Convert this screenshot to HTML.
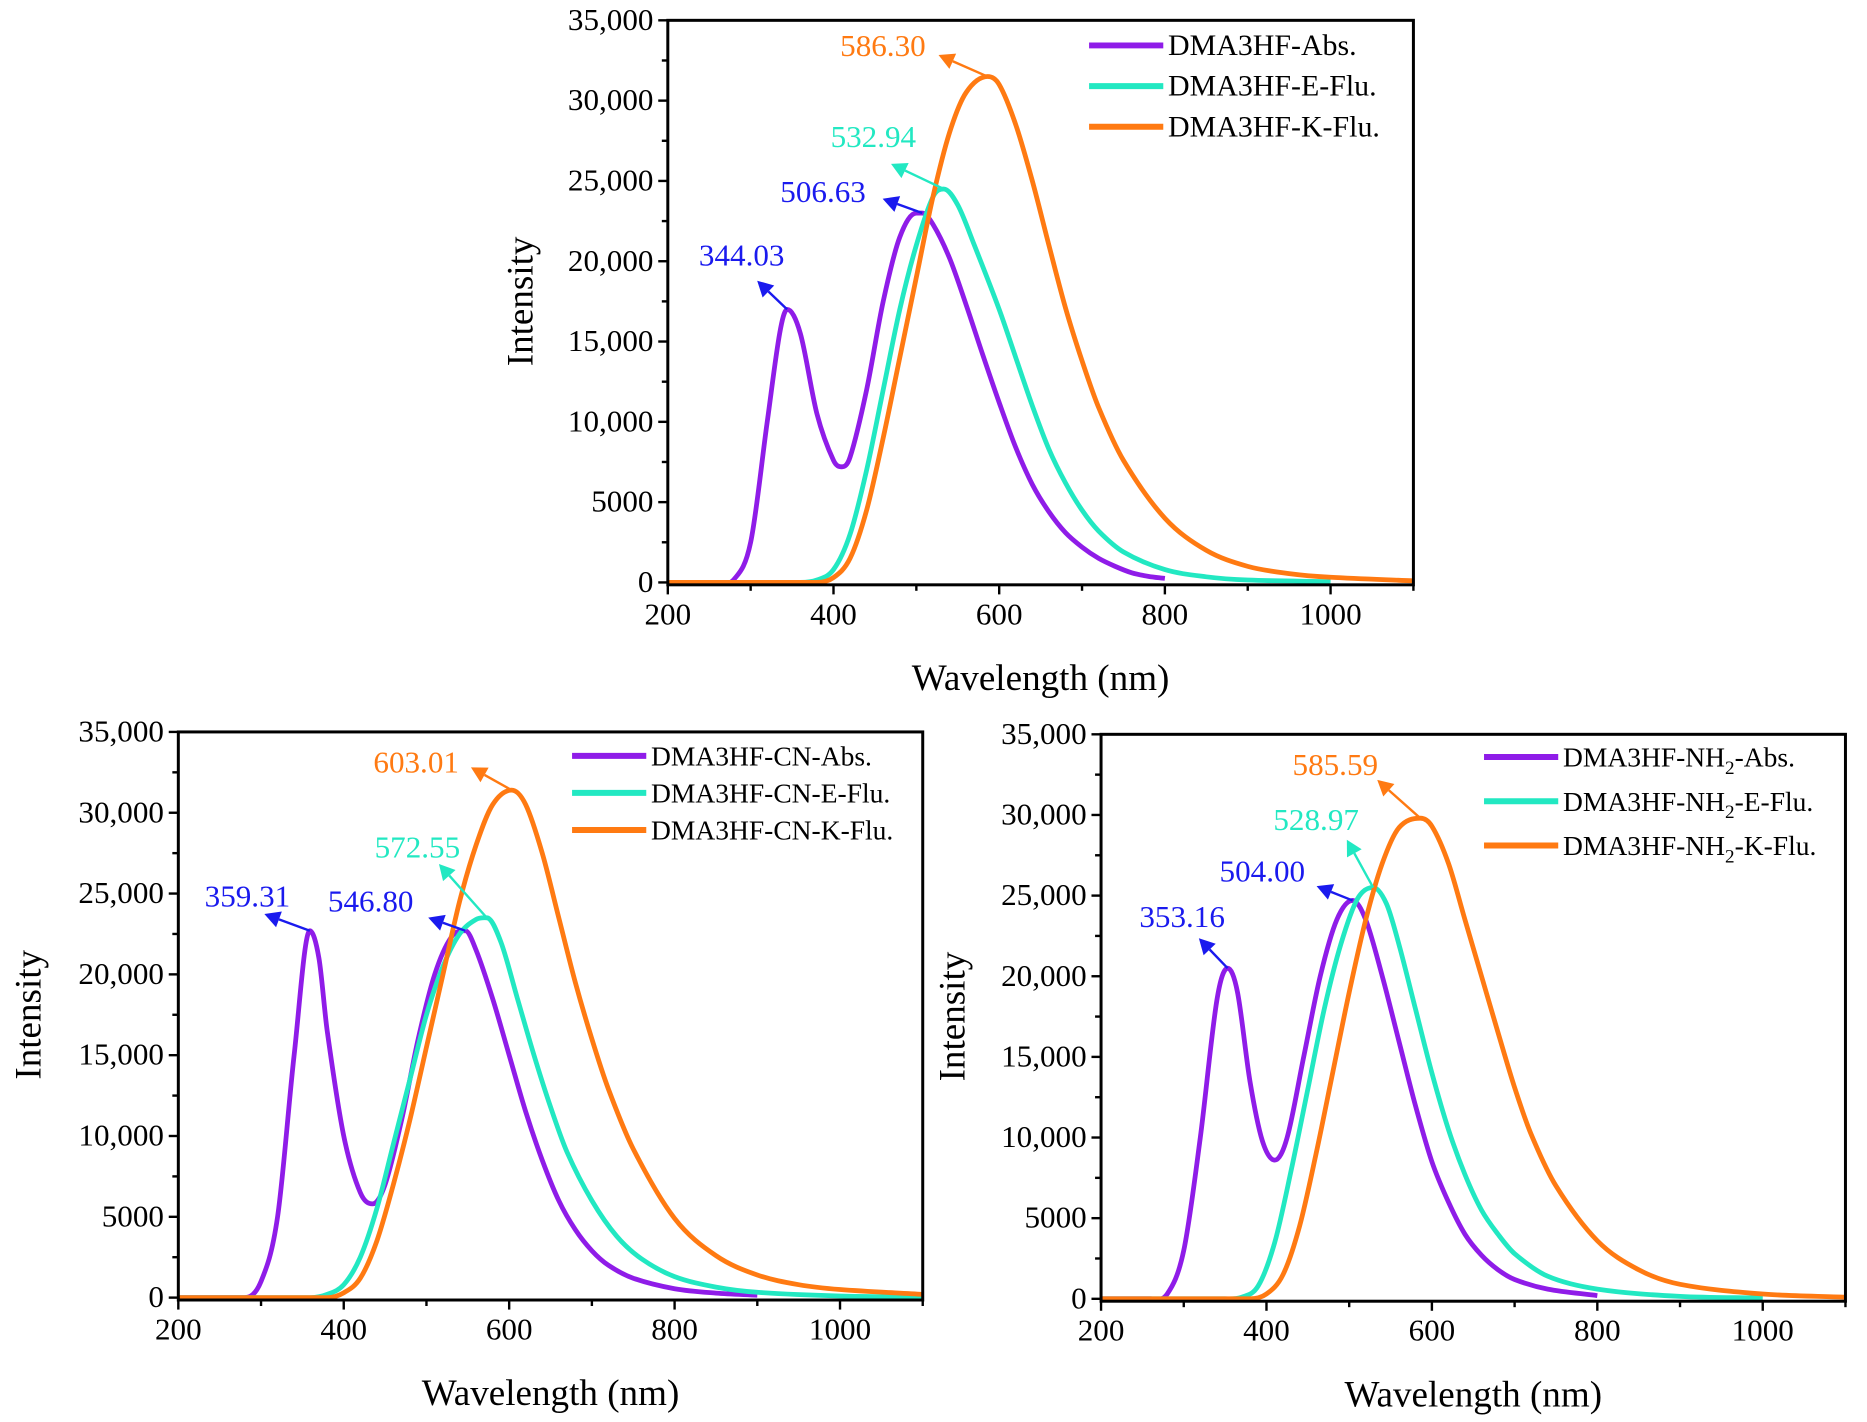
<!DOCTYPE html>
<html><head><meta charset="utf-8">
<style>
html,body{margin:0;padding:0;background:#fff;}
svg{display:block;font-family:"Liberation Serif","Times New Roman",serif;}
text{font-family:"Liberation Serif","Times New Roman",serif;}
</style></head>
<body>
<svg id="fig" width="1867" height="1422" viewBox="0 0 1560 1189" preserveAspectRatio="none" font-family="Liberation Serif, serif" xmlns="http://www.w3.org/2000/svg"></svg>
<script>
// ---- data (wavelength nm / intensity) ----
const xTicks = [200,400,600,800,1000];
const yTicks = [0,5000,10000,15000,20000,25000,30000,35000];
const yTickLabels = ["0","5000","10,000","15,000","20,000","25,000","30,000","35,000"];

const topAbsX = [200,260,280,300,320,335,344,360,380,400,410,420,440,460,480,500,507,520,540,560,580,600,620,640,660,680,700,720,740,760,780,800];
const topAbsY = [0,0,200,2500,10000,15500,17000,15500,10500,7600,7200,7800,12000,17500,21500,23000,23000,22300,20200,17300,14200,11200,8400,6100,4400,3100,2200,1500,1000,600,380,250];
const topEX = [200,360,380,400,420,440,460,480,500,520,533,550,570,600,620,640,660,680,700,720,750,800,850,900,1000];
const topEY = [0,0,150,800,3000,7000,12000,17000,21000,24000,24500,23500,21000,17000,14000,11000,8300,6200,4500,3200,1900,800,350,150,50];
const topKX = [200,380,400,420,440,460,480,500,520,540,560,586,600,620,640,660,680,700,720,750,800,850,900,950,1000,1100];
const topKY = [0,0,300,1500,4500,9000,14000,19000,24000,28000,30500,31500,31000,28500,25000,21000,17100,13800,10900,7600,4000,2000,1000,550,320,100];

const cnAbsX = [200,280,300,320,340,359,370,380,400,420,435,450,470,490,510,530,547,560,580,600,620,640,660,680,700,720,750,800,850,900];
const cnAbsY = [0,0,1000,5000,15000,22700,21000,16500,10000,6500,5800,7000,11000,16000,20000,22300,22700,21500,18500,15000,11500,8500,6000,4200,2900,2000,1200,550,280,150];
const cnEX = [200,360,380,400,420,440,460,480,500,520,540,560,573,590,610,630,650,670,700,730,760,800,850,900,1000,1100];
const cnEY = [0,0,200,800,2500,5500,9500,13500,17500,20500,22500,23400,23500,22000,18500,15000,11800,9000,6000,3800,2400,1300,650,330,100,40];
const cnKX = [200,380,400,420,440,460,480,500,520,540,560,580,603,620,640,660,680,700,720,750,800,850,900,950,1000,1100];
const cnKY = [0,0,300,1200,3500,7000,11000,15500,20000,24500,28000,30500,31400,30500,27500,23500,19500,16000,12900,9200,4900,2600,1400,800,500,200];

const nhAbsX = [200,260,280,300,320,340,353,365,380,395,410,425,445,465,485,504,520,540,560,580,600,620,640,660,680,700,740,800];
const nhAbsY = [0,0,300,3000,10000,18500,20500,19000,13500,9800,8600,10000,15000,20000,23500,24700,23500,20000,16000,12000,8500,6000,4000,2700,1800,1200,600,200];
const nhEX = [200,350,370,390,410,430,450,470,490,510,529,545,560,580,600,620,640,660,680,700,740,800,900,1000];
const nhEY = [0,0,100,800,3500,8000,13000,18000,22000,24800,25500,24500,22000,18000,14000,10500,7700,5500,4000,2800,1400,600,150,50];
const nhKX = [200,380,400,420,440,460,480,500,520,540,560,586,600,620,640,660,680,700,720,750,800,850,900,1000,1100];
const nhKY = [0,0,300,1500,4500,9000,14000,19000,23500,27000,29200,29800,29300,27000,23500,20000,16500,13100,10200,7000,3600,1800,900,300,100];

const topPeakLabels = ["344.03","506.63","532.94","586.30"];
const topPeakX = [344,507,533,586];
const topPeakY = [17000,23000,24500,31500];
const cnPeakLabels = ["359.31","546.80","572.55","603.01"];
const cnPeakX = [359,547,573,603];
const cnPeakY = [22700,22700,23500,31400];
const nhPeakLabels = ["353.16","504.00","528.97","585.59"];
const nhPeakX = [353,504,529,586];
const nhPeakY = [20500,24700,25500,29800];

const C_ABS="#8f1ce8", C_E="#22e8c2", C_K="#ff7a12", C_BLUE="#1a1aee";
const NS="http://www.w3.org/2000/svg";
const svg=document.getElementById('fig');
function el(tag,attrs,parent){const e=document.createElementNS(NS,tag);for(const k in attrs)e.setAttribute(k,attrs[k]);(parent||svg).appendChild(e);return e;}
function smooth(pts){
  const n=pts.length,m=[];
  for(let i=0;i<n;i++){
    if(i===0) m.push((pts[1][1]-pts[0][1])/(pts[1][0]-pts[0][0]));
    else if(i===n-1) m.push((pts[n-1][1]-pts[n-2][1])/(pts[n-1][0]-pts[n-2][0]));
    else{
      const d0=(pts[i][1]-pts[i-1][1])/(pts[i][0]-pts[i-1][0]);
      const d1=(pts[i+1][1]-pts[i][1])/(pts[i+1][0]-pts[i][0]);
      if(d0*d1<=0) m.push(0);
      else m.push((pts[i+1][1]-pts[i-1][1])/(pts[i+1][0]-pts[i-1][0]));
    }
  }
  let d=`M${pts[0][0]},${pts[0][1]}`;
  for(let i=0;i<n-1;i++){
    const h=(pts[i+1][0]-pts[i][0])/3;
    d+=` C${pts[i][0]+h},${pts[i][1]+m[i]*h} ${pts[i+1][0]-h},${pts[i+1][1]-m[i+1]*h} ${pts[i+1][0]},${pts[i+1][1]}`;
  }
  return d;
}

function panel(cfg){
  const g=el('g',{});
  
  
  const {L,R,T,Z}=cfg;
  const sx=v=>L+(v-200)/900*(R-L);
  const sy=v=>Z-v/35000*(Z-T);
  const B=Z+2;
  const series=[[cfg.absX,cfg.absY,C_ABS,'abs'],[cfg.eX,cfg.eY,C_E,'e-flu'],[cfg.kX,cfg.kY,C_K,'k-flu']];
  series.forEach(s=>{
    const p=el('path',{d:smooth(s[0].map((x,i)=>[sx(x),sy(s[1][i])])),fill:'none',stroke:s[2],'stroke-width':4,'stroke-linejoin':'round'},g);
    
    
  });
  const fr=el('rect',{x:L,y:T,width:R-L,height:B-T,fill:'none',stroke:'#000','stroke-width':2.5},g);
  
  
  for(let v=200;v<=1100;v+=100){const x=sx(v);const maj=v%200===0;el('line',{x1:x,y1:B,x2:x,y2:B+(maj?8:5),stroke:'#000','stroke-width':2},g);}
  xTicks.forEach(v=>{const t=el('text',{x:sx(v),y:B+33,'font-size':26,'text-anchor':'middle'},g);t.textContent=v;
    });
  for(let v=0;v<=35000;v+=2500){const y=sy(v);const maj=v%5000===0;el('line',{x1:L,y1:y,x2:L-(maj?8:5),y2:y,stroke:'#000','stroke-width':2},g);}
  yTicks.forEach((v,i)=>{const t=el('text',{x:L-12,y:sy(v)+8,'font-size':26,'text-anchor':'end'},g);t.textContent=yTickLabels[i];
    });
  const xt=el('text',{x:(L+R)/2,y:B+88,'font-size':31,'text-anchor':'middle'},g);xt.textContent='Wavelength (nm)';
  
  const yx=cfg.ylx,yy=(T+Z)/2;
  const yt=el('text',{x:yx,y:yy,'font-size':31,'text-anchor':'middle',transform:`rotate(-90 ${yx} ${yy})`},g);yt.textContent='Intensity';
  
  cfg.legend.forEach((lg,i)=>{
    const y=cfg.legY[i];
    el('line',{x1:cfg.legX,y1:y,x2:cfg.legX+62,y2:y,stroke:[C_ABS,C_E,C_K][i],'stroke-width':5},g);
    const t=el('text',{x:cfg.legX+66,y:y+8,'font-size':cfg.legFs},g);t.innerHTML=lg;
    
  });
  const colors=[C_BLUE,C_BLUE,C_E,C_K];
  cfg.peakX.forEach((px,i)=>{
    const x1=sx(px),y1=sy(cfg.peakY[i]);
    const o=cfg.arrow[i];const x2=x1+o[0],y2=y1+o[1];
    const col=colors[i];
    const ang=Math.atan2(y2-y1,x2-x1),hl=13,hw=7;
    const bx=x2-hl*Math.cos(ang),by=y2-hl*Math.sin(ang);
    el('line',{x1:x1,y1:y1,x2:bx,y2:by,stroke:col,'stroke-width':2},g);
    el('polygon',{points:`${x2},${y2} ${bx-hw*Math.sin(ang)},${by+hw*Math.cos(ang)} ${bx+hw*Math.sin(ang)},${by-hw*Math.cos(ang)}`,fill:col},g);
    const t=el('text',{x:cfg.lab[i][0],y:cfg.lab[i][1],'font-size':26,fill:col},g);t.textContent=cfg.peakLabels[i];
    
  });
}

panel({name:'top-panel',L:558,R:1181,T:17,Z:487,ylx:445,legFs:25,
  absX:topAbsX,absY:topAbsY,eX:topEX,eY:topEY,kX:topKX,kY:topKY,
  peakX:topPeakX,peakY:topPeakY,peakLabels:topPeakLabels,
  arrow:[[-25,-24],[-33,-12],[-44,-21],[-41,-18]],
  lab:[[584,222],[652,169],[694,123],[702,47]],
  legX:910,legY:[38,72,106],
  legend:['DMA3HF-Abs.','DMA3HF-E-Flu.','DMA3HF-K-Flu.']});
panel({name:'cn-panel',L:149,R:771,T:612,Z:1085,ylx:34,legFs:23,
  absX:cnAbsX,absY:cnAbsY,eX:cnEX,eY:cnEY,kX:cnKX,kY:cnKY,
  peakX:cnPeakX,peakY:cnPeakY,peakLabels:cnPeakLabels,
  arrow:[[-38,-14],[-31,-11],[-40,-45],[-34,-19]],
  lab:[[171,758],[274,762],[313,717],[312,646]],
  legX:478,legY:[632,663,694],
  legend:['DMA3HF-CN-Abs.','DMA3HF-CN-E-Flu.','DMA3HF-CN-K-Flu.']});
panel({name:'nh2-panel',L:920,R:1542,T:614,Z:1086,ylx:806,legFs:23,
  absX:nhAbsX,absY:nhAbsY,eX:nhEX,eY:nhEY,kX:nhKX,kY:nhKY,
  peakX:nhPeakX,peakY:nhPeakY,peakLabels:nhPeakLabels,
  arrow:[[-24,-25],[-30,-12],[-22,-40],[-36,-32]],
  lab:[[952,775],[1019,737],[1064,694],[1080,648]],
  legX:1240,legY:[633,670,707],
  legend:['DMA3HF-NH<tspan font-size="16" dy="6">2</tspan><tspan dy="-6">-Abs.</tspan>','DMA3HF-NH<tspan font-size="16" dy="6">2</tspan><tspan dy="-6">-E-Flu.</tspan>','DMA3HF-NH<tspan font-size="16" dy="6">2</tspan><tspan dy="-6">-K-Flu.</tspan>']});
</script>
</body></html>
